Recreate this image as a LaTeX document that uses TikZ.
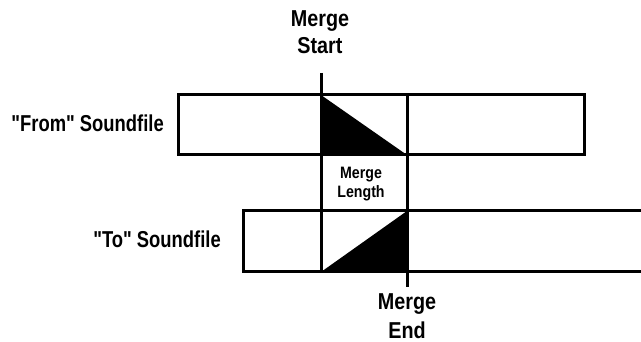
\documentclass[tikz,border=0pt]{standalone}
\usepackage{fontspec}
\newfontfamily\lblfont{Liberation Sans}[FakeStretch=0.8]
\newfontfamily\mrgfont{Liberation Sans}[FakeStretch=0.86]
\begin{document}
\begin{tikzpicture}[x=1pt,y=-1pt,
  boxline/.style={line width=3pt,line join=miter},
  side/.style={inner sep=0pt,font=\lblfont\bfseries\fontsize{23}{28}\selectfont},
  lbl/.style={inner sep=0pt,font=\mrgfont\bfseries\fontsize{23}{27}\selectfont,align=center},
  small/.style={inner sep=0pt,font=\mrgfont\bfseries\fontsize{16.5}{19}\selectfont,align=center}]
\useasboundingbox (0,0) rectangle (641,342);
% coordinates
\coordinate (fA) at (178,95);
\coordinate (fB) at (584,155);
\coordinate (tTL) at (243,211);
\coordinate (tBL) at (243,272);
\coordinate (tTR) at (641,211);
\coordinate (tBR) at (641,272);
\coordinate (sTop) at (321,73);
\coordinate (sBot) at (321,272);
\coordinate (eTop) at (407,95);
\coordinate (eBot) at (407,287);
% filled triangles
\fill (321,95) -- (321,155) -- (407,155) -- cycle;
\fill (321,272) -- (407,211) -- (407,272) -- cycle;
% boxes
\draw[boxline] (fA) rectangle (fB);
\draw[boxline] (tTR) -- (tTL) -- (tBL) -- (tBR);
% merge lines
\draw[boxline] (sTop) -- (sBot);
\draw[boxline] (eTop) -- (eBot);
% labels
\node[side,anchor=base east] (fromlbl) at (164,132) {"From" Soundfile};
\node[side,anchor=base east] (tolbl) at (221,248) {"To" Soundfile};
\node[lbl,anchor=north] (mstart) at (320,10) {Merge\\Start};
\node[lbl,anchor=north,font=\mrgfont\bfseries\fontsize{23}{29}\selectfont] (mend) at (407,293) {Merge\\End};
\node[small,anchor=north] (mlen) at (361,167) {Merge\\Length};
\end{tikzpicture}
\end{document}
